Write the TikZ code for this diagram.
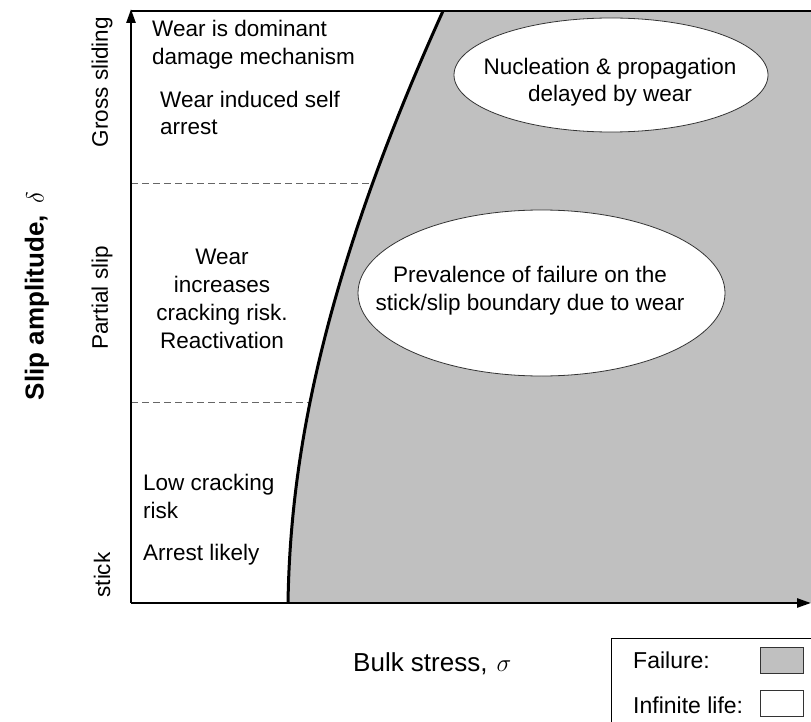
\documentclass[tikz,border=0pt]{standalone}
\usepackage{fontspec}
\setmainfont{Liberation Sans}
\usetikzlibrary{arrows.meta,shapes.geometric}
\definecolor{failgray}{RGB}{192,192,192}
\begin{document}
\begin{tikzpicture}[x=1pt,y=-1pt,
  txt/.style={font=\fontsize{22.5}{27.7}\selectfont, inner sep=0pt},
  axlab/.style={font=\fontsize{26}{30}\selectfont, inner sep=0pt},
  axisline/.style={line width=2.5pt, -{Triangle[length=14pt,width=9pt]}},
  divider/.style={dash pattern=on 7pt off 4pt, line width=1pt, draw=black!60},
  bubble/.style={ellipse, draw=black!80, line width=0.8pt, fill=white, inner sep=0pt},
  swatch/.style={draw=black!80, line width=0.8pt, minimum width=43pt, minimum height=26pt, inner sep=0pt}]
\useasboundingbox (0,0) rectangle (811,722);
% dividers (partly covered by the failure region)
\draw[divider] (131,184) -- (380,184);
\draw[divider] (131,402) -- (320,402);
% failure region
\fill[failgray] (288,603) .. controls (290,480) and (312,300) .. (443,11) -- (811,11) -- (811,603) -- cycle;
\draw[line width=3pt] (288,603) .. controls (290,480) and (312,300) .. (443,11);
% top border
\draw[line width=2pt] (131,11) -- (811,11);
% axes
\coordinate (O) at (131,603);
\coordinate (ytop) at (131,9);
\coordinate (xend) at (811,603);
\draw[axisline] (O) -- (ytop);
\draw[axisline] (O) -- (xend);
% bubbles
\node[bubble, minimum width=314pt, minimum height=114pt] (e1) at (611,75) {};
\node[bubble, minimum width=367pt, minimum height=166pt] (e2) at (541.5,293) {};
\node[txt, anchor=base, align=center] (e1t) at (610,102) {Nucleation \& propagation\\delayed by wear};
\node[txt, anchor=base, align=center] (e2t) at (530,310) {Prevalence of failure on the\\stick/slip boundary due to wear};
% left texts
\node[txt, anchor=base west, align=left] (t1) at (152,64.3) {Wear is dominant\\damage mechanism};
\node[txt, anchor=base west, align=left] (t2) at (160,135) {Wear induced self\\arrest};
\node[txt, anchor=base, align=center] (t3) at (222,348) {Wear\\increases\\cracking risk.\\Reactivation};
\node[txt, anchor=base west, align=left] (t4) at (143,518) {Low cracking\\risk};
\node[txt, anchor=base west] (t5) at (143,560) {Arrest likely};
% regime labels
\node[txt, rotate=90] (gs) at (102,82) {Gross sliding};
\node[txt, rotate=90] (ps) at (102,298) {Partial slip};
\node[txt, rotate=90] (st) at (102,575) {stick};
% axis labels
\node[axlab, rotate=90, font=\fontsize{26}{30}\selectfont\bfseries] (ylab) at (37,296) {Slip amplitude, \,$\delta$};
\node[axlab, anchor=base west] (xlab) at (353,671) {Bulk stress,\hspace{9pt}$\sigma$};
% legend
\draw[line width=1pt] (611,638) rectangle (840,760);
\node[txt, font=\fontsize{23}{27}\selectfont, anchor=base west] (lf) at (633,668) {Failure:};
\node[txt, font=\fontsize{23}{27}\selectfont, anchor=base west] (li) at (633,713) {Infinite life:};
\node[swatch, fill=failgray, anchor=north west] (sf) at (760,647) {};
\node[swatch, fill=white, anchor=north west] (si) at (760,690) {};
\end{tikzpicture}
\end{document}
